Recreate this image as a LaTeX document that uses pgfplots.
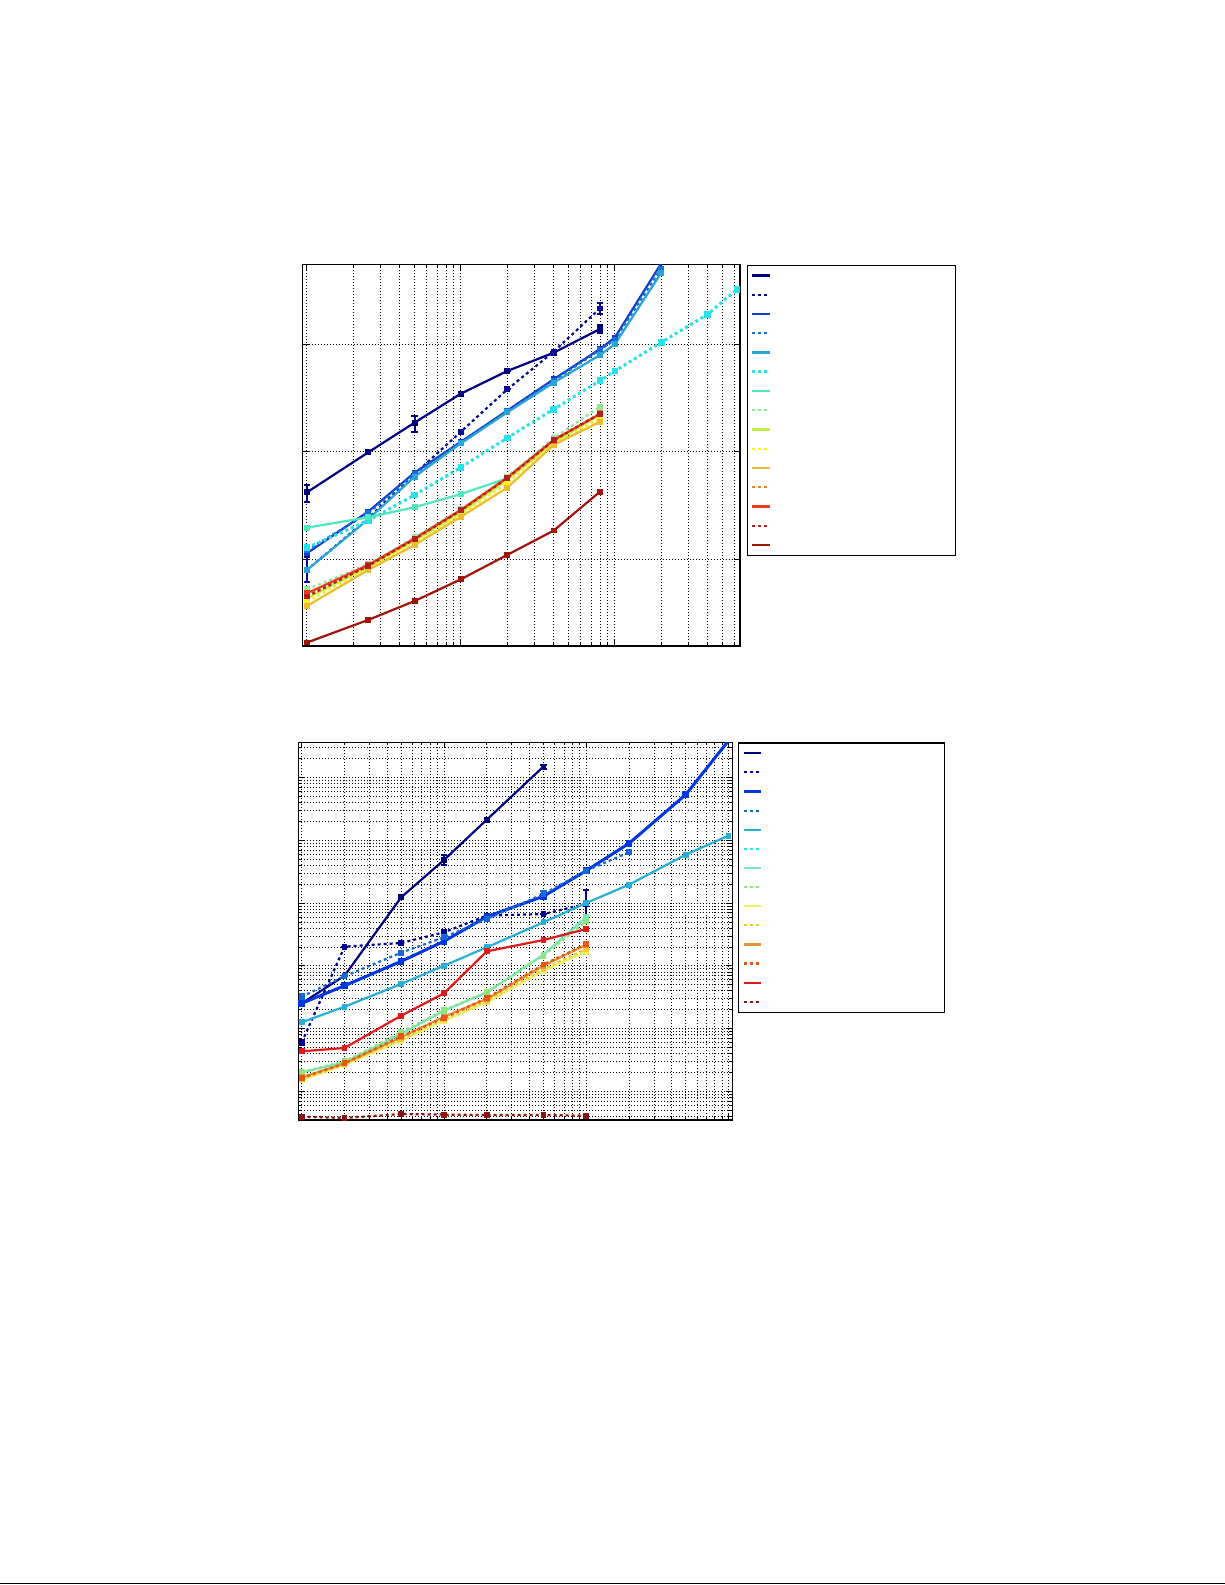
\documentclass[border=0pt]{standalone}
\usepackage{pgfplots}
\pgfplotsset{compat=1.18}

% colours read off the two legends
\definecolor{a1}{RGB}{0,0,128}
\definecolor{a2}{RGB}{10,10,150}
\definecolor{a3}{RGB}{20,60,200}
\definecolor{a4}{RGB}{20,110,220}
\definecolor{a5}{RGB}{40,165,215}
\definecolor{a6}{RGB}{40,225,235}
\definecolor{a7}{RGB}{80,230,190}
\definecolor{a8}{RGB}{150,230,150}
\definecolor{a9}{RGB}{190,240,70}
\definecolor{a10}{RGB}{250,240,40}
\definecolor{a11}{RGB}{235,190,50}
\definecolor{a12}{RGB}{235,130,30}
\definecolor{a13}{RGB}{235,60,30}
\definecolor{a14}{RGB}{180,30,30}
\definecolor{a15}{RGB}{160,20,10}

\definecolor{b1}{RGB}{0,0,128}
\definecolor{b2}{RGB}{0,0,150}
\definecolor{b3}{RGB}{0,55,225}
\definecolor{b4}{RGB}{20,105,215}
\definecolor{b5}{RGB}{40,175,215}
\definecolor{b6}{RGB}{40,230,240}
\definecolor{b7}{RGB}{120,230,190}
\definecolor{b8}{RGB}{140,230,120}
\definecolor{b9}{RGB}{230,240,100}
\definecolor{b10}{RGB}{250,200,40}
\definecolor{b11}{RGB}{225,150,50}
\definecolor{b12}{RGB}{235,85,20}
\definecolor{b13}{RGB}{225,25,25}
\definecolor{b14}{RGB}{140,20,20}

\pgfplotsset{
  pser/.style={line width=1.1pt, mark=square*, mark size=0.9pt, mark options={solid}},
  pdot/.style={dash pattern=on 1.5pt off 1.5pt},
}

\begin{document}
\begin{tikzpicture}
\path[use as bounding box] (0pt,0pt) rectangle (612.5pt,-792.5pt);
\fill[white] (0pt,0pt) rectangle (612.5pt,-792.5pt);

% ---------------- upper plot ----------------
\begin{axis}[
  scale only axis,
  xmode=log, ymode=log,
  at={(151.35pt,-132.35pt)}, anchor=north west,
  width=218.65pt, height=190.65pt,
  xmin=0.938, xmax=649, ymin=0.156, ymax=551,
  xtick={1,10,100},
  minor xtick={2,3,4,5,6,7,8,9,20,30,40,50,60,70,80,90,200,300,400,500,600},
  ytick={1,10,100}, yminorticks=false,
  xticklabels={}, yticklabels={},
  tick align=inside,
  major tick length=3pt, minor tick length=1.5pt,
  every tick/.style={black, line width=0.5pt},
  axis line style={line width=0.7pt},
  xmajorgrids, xminorgrids, ymajorgrids,
  major grid style={black, line width=0.5pt, dash pattern=on 0.5pt off 1pt},
  minor grid style={black, line width=0.5pt, dash pattern=on 0.5pt off 1pt},
  legend cell align=left,
  legend image code/.code={\draw (0pt,0pt) -- (8.9pt,0pt);},
  legend style={at={(1,1)}, anchor=north west, xshift=3.5pt,
    line width=0.6pt, inner xsep=1.5pt, inner ysep=0.3pt, row sep=0pt,
    nodes={inner sep=0pt, text width=90.6pt, text height=4.81pt, text depth=4.81pt}},
  legend entries={\mbox{},\mbox{},\mbox{},\mbox{},\mbox{},\mbox{},\mbox{},\mbox{},\mbox{},\mbox{},\mbox{},\mbox{},\mbox{},\mbox{},\mbox{}},
  error bars/error mark options={rotate=90, line width=1pt, mark size=1.6pt},
  error bars/error bar style={solid, line width=1pt},
]
\addplot [pser, a1, error bars/.cd, y dir=both, y explicit] table [y error plus=ep, y error minus=em] {
x y ep em
1 4.20 0.71 0.76
2.5 9.89 0 0
5 18.7 3.0 3.3
10 34.8 0 0
20 56.5 0 0
40 83.6 0 0
80 139 12.5 12.5
};
\addplot [pser, pdot, a2, error bars/.cd, y dir=both, y explicit] table [y error plus=ep, y error minus=em] {
x y ep em
1 0.796 0.26 0.18
2.5 2.41 0 0
5 6.22 0 0
10 15.4 0 0
20 38.1 0 0
40 85.5 0 0
80 216 24 24
};
\addplot [pser, a3] table {
x y
1 1.14
2.5 2.78
5 6.40
10 12.4
20 24.2
40 47.3
80 90.5
100 116
200 567
};
\addplot [pser, pdot, a4] table {
x y
1 1.22
2.5 2.68
5 6.22
10 12.2
20 23.8
40 45.9
80 88.6
100 111
200 509
};
\addplot [pser, a5] table {
x y
1 0.796
2.5 2.36
5 5.87
10 12.0
20 23.3
40 44.0
80 79.6
100 100.7
200 464
};
\addplot [pser, pdot, a6, line width=1.5pt] table {
x y
1 1.28
2.5 2.29
5 3.97
10 7.17
20 13.5
40 24.9
80 45.9
100 56.5
200 104.4
400 190
620 325
};
\addplot [pser, a7] table {
x y
1 1.97
2.5 2.46
5 3.05
10 4.05
20 5.67
};
\addplot [pser, pdot, a8] table {
x y
1 0.526
2.5 0.898
5 1.60
10 2.92
20 5.87
40 13.4
80 26.3
};
\addplot [pser, a9] table {
x y
1 0.434
2.5 0.843
5 1.49
10 2.72
20 5.47
40 12.2
80 22.0
};
\addplot [pser, pdot, a10] table {
x y
1 0.404
2.5 0.824
5 1.43
10 2.59
20 5.09
40 11.8
80 20.5
};
\addplot [pser, a11] table {
x y
1 0.368
2.5 0.796
5 1.36
10 2.49
20 4.64
40 11.6
80 19.1
};
\addplot [pser, pdot, a12] table {
x y
1 0.466
2.5 0.867
5 1.53
10 2.84
20 5.67
40 12.7
80 22.8
};
\addplot [pser, a13] table {
x y
1 0.483
2.5 0.886
5 1.56
10 2.88
20 5.75
40 12.9
80 22.5
};
\addplot [pser, pdot, a14] table {
x y
1 0.450
2.5 0.870
5 1.55
10 2.86
20 5.71
40 12.8
80 22.6
};
\addplot [pser, a15] table {
x y
1 0.168
2.5 0.273
5 0.409
10 0.652
20 1.10
40 1.85
80 4.26
};
\end{axis}

% ---------------- lower plot ----------------
\begin{axis}[
  scale only axis,
  xmode=log, ymode=log,
  at={(149.15pt,-371.15pt)}, anchor=north west,
  width=217pt, height=188.85pt,
  xmin=0.946, xmax=1062, ymin=0.349, ymax=368000,
  xtick={1,10,100,1000},
  minor xtick={2,3,4,5,6,7,8,9,20,30,40,50,60,70,80,90,200,300,400,500,600,700,800,900},
  ytick={1,10,100,1000,10000,100000},
  minor ytick={0.4,0.5,0.6,0.7,0.8,0.9,2,3,4,5,6,7,8,9,20,30,40,50,60,70,80,90,
    200,300,400,500,600,700,800,900,2000,3000,4000,5000,6000,7000,8000,9000,
    20000,30000,40000,50000,60000,70000,80000,90000,200000,300000},
  xticklabels={}, yticklabels={},
  tick align=inside,
  major tick length=3pt, minor tick length=1.5pt,
  every tick/.style={black, line width=0.5pt},
  axis line style={line width=0.7pt},
  xmajorgrids, xminorgrids, ymajorgrids, yminorgrids,
  major grid style={black, line width=0.5pt, dash pattern=on 0.5pt off 1pt},
  minor grid style={black, line width=0.5pt, dash pattern=on 0.5pt off 1pt},
  legend cell align=left,
  legend image code/.code={\draw (0pt,0pt) -- (8.5pt,0pt);},
  legend style={at={(1,1)}, anchor=north west, xshift=3pt,
    line width=0.6pt, inner xsep=1.85pt, inner ysep=0.4pt, row sep=0pt,
    nodes={inner sep=0pt, text width=89.15pt, text height=4.78pt, text depth=4.78pt}},
  legend entries={\mbox{},\mbox{},\mbox{},\mbox{},\mbox{},\mbox{},\mbox{},\mbox{},\mbox{},\mbox{},\mbox{},\mbox{},\mbox{},\mbox{}},
  error bars/error mark options={rotate=90, line width=1pt, mark size=1.6pt},
  error bars/error bar style={solid, line width=1pt},
]
\addplot [pser, b1, error bars/.cd, y dir=both, y explicit] table [y error plus=ep, y error minus=em] {
x y ep em
1 25.3 0 0
2 69.9 0 0
5 1242 0 0
10 4894 880 880
20 21520 0 0
50 150700 12000 12000
};
\addplot [pser, pdot, b2, error bars/.cd, y dir=both, y explicit] table [y error plus=ep, y error minus=em] {
x y ep em
1 6.04 0.6 0.6
2 203 0 0
5 232 0 0
10 344 0 0
20 634 0 0
50 673 0 0
100 972 673 338
};
\addplot [pser, b3, line width=1.5pt] table {
x y
1 25.3
2 48.4
5 118.4
10 247
20 611
50 1289
100 3306
200 9020
500 53950
1000 391500
};
\addplot [pser, pdot, b4, error bars/.cd, y dir=both, y explicit] table [y error plus=ep, y error minus=em] {
x y ep em
1 32.3 3 3
2 68.3 0 0
5 163 0 0
10 286 25 25
20 561 0 0
50 1404 150 150
100 3306 0 0
200 6486 0 0
};
\addplot [pser, b5] table {
x y
1 12.6
2 22.4
5 51.5
10 101
20 198
50 496
100 1009
200 1977
500 5953
1000 11960
};
\addplot [pser, pdot, b6] table {
x y
1 2.01
2 2.97
5 8.41
10 19.3
20 37.9
50 151
100 611
};
\addplot [pser, b7] table {
x y
1 2.01
2 2.90
5 8.21
10 19.3
20 37.9
50 151
100 596
};
\addplot [pser, pdot, b8] table {
x y
1 2.01
2 3.01
5 8.73
10 19.8
20 37.9
50 146
100 514
};
\addplot [pser, b9] table {
x y
1 1.52
2 2.66
5 6.43
10 13.4
20 26.3
50 84.1
100 169
};
\addplot [pser, pdot, b10] table {
x y
1 1.57
2 2.73
5 6.84
10 14.3
20 27.9
50 89.4
100 186
};
\addplot [pser, b11] table {
x y
1 1.67
2 2.80
5 7.27
10 15.5
20 29.7
50 101
100 218
};
\addplot [pser, pdot, b12] table {
x y
1 1.63
2 2.80
5 7.54
10 14.8
20 30.8
50 105
100 224
};
\addplot [pser, b13] table {
x y
1 4.35
2 4.91
5 16.1
10 36.6
20 171
50 259
100 388
};
\addplot [pser, pdot, b14] table {
x y
1 0.394
2 0.376
5 0.435
10 0.425
20 0.420
50 0.420
100 0.409
};
\end{axis}

% rule along the foot of the page
\draw[line width=0.7pt] (0pt,-791.6pt) -- (612.5pt,-791.6pt);
\end{tikzpicture}
\end{document}
